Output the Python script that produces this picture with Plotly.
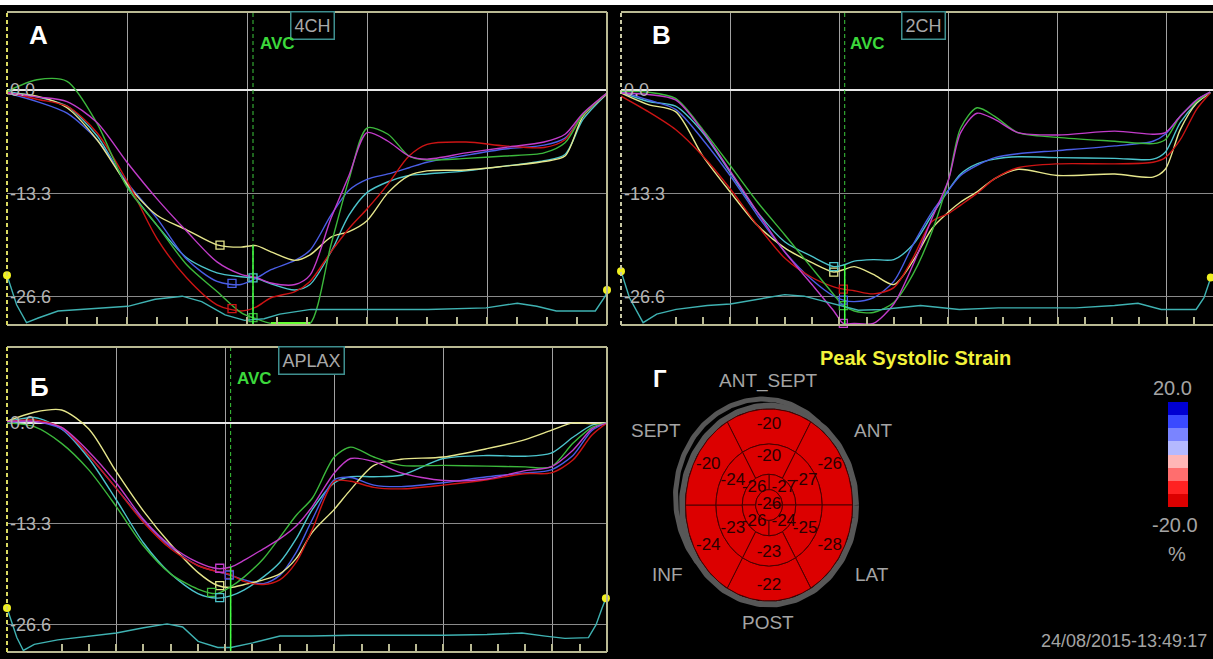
import numpy as np
import plotly.graph_objects as go

W, H = 1213, 659
NARROW = "Liberation Sans Narrow, Arial Narrow, Liberation Sans, Arial, sans-serif"
SANS = "Liberation Sans, Arial, sans-serif"

SEG_COLORS = {
    "cyan": "#4cc4cc",
    "blue": "#4a5ee6",
    "yellow": "#e6e68c",
    "red": "#cc1414",
    "green": "#3cb83c",
    "magenta": "#c23cca",
}
ECG_COLOR = "#3fb2b2"
FRAME = "#b9b993"

# ---------------- Panel А : apical 4-chamber (4CH) ----------------
frames_4ch = [0, 1, 2, 3, 4, 5, 6, 7, 7.8, 8.3, 8.8, 9.6, 10.1, 10.8, 11.4, 12, 12.7,
              13.4, 14, 15.3, 16.6, 17.9, 18.6, 19.2, 20]
yellow_4ch = [-0.5, -0.8, -2.3, -6.4, -12.1, -16.1, -18.0, -19.9, -20.2, -20.0, -20.8, -21.9,
              -21.2, -18.9, -18.2, -16.8, -13.2, -11.0, -10.4, -10.3, -9.8, -9.2, -8.5, -3.4, -0.5]
cyan_4ch = [-0.2, -0.9, -2.1, -5.9, -12.3, -17.4, -21.6, -23.5, -24.0, -24.2, -24.9, -25.7,
            -25.0, -20.8, -16.1, -13.2, -11.8, -11.0, -10.8, -10.4, -9.8, -9.1, -8.3, -3.8, -0.5]
green_4ch = [-0.2, 1.3, 1.1, -4.3, -12.5, -17.4, -22.5, -25.9, -28.6, -29.4, -30.0, -30.0,
             -30.0, -19.9, -11.5, -4.9, -5.7, -8.5, -9.0, -8.8, -8.5, -8.1, -6.8, -3.2, -0.4]
magenta_4ch = [-0.4, -0.9, -1.5, -4.2, -9.3, -14.0, -18.2, -22.1, -23.7, -24.1, -24.8, -25.0,
               -23.8, -16.5, -11.0, -5.5, -6.6, -8.5, -8.9, -8.1, -7.4, -6.7, -5.7, -3.0, -0.4]
red_4ch = [-0.3, -1.2, -2.1, -5.5, -11.7, -19.1, -24.2, -27.6, -28.4, -27.9, -26.7, -25.9,
           -24.6, -20.8, -17.8, -15.3, -12.1, -8.5, -7.0, -6.7, -7.2, -7.4, -6.4, -3.2, -0.4]
blue_4ch = [-0.4, -1.5, -3.0, -6.4, -11.9, -16.5, -21.8, -24.6, -25.0, -24.2, -23.1, -21.9,
            -20.6, -16.1, -12.9, -11.5, -10.8, -10.0, -9.3, -8.4, -7.6, -7.1, -6.2, -3.2, -0.4]
ecg_frames_4ch = [0, 0.32, 0.65, 1.04, 1.7, 3.0, 4.03, 4.94, 5.84, 6.49, 7.27, 7.92, 8.57, 9.09,
                  10.13, 12.73, 14.03, 15.97, 17.01, 17.66, 18.31, 19.61, 19.94, 20.0]
ecg_4ch = [-23.8, -27.6, -29.9, -29.3, -28.4, -28.1, -27.8, -26.9, -26.5, -27.2, -28.9, -29.6,
           -29.4, -28.8, -28.2, -28.2, -28.2, -28.0, -27.4, -27.8, -28.4, -28.4, -26.5, -25.7]
peak_names_4ch = ["yellow", "blue", "red", "cyan", "green"]
peak_frames_4ch = [7.1, 7.5, 7.5, 8.2, 8.2]

# ---------------- Panel В : apical 2-chamber (2CH) ----------------
frames_2ch = [0, 1, 2, 3, 4, 5, 6, 7, 7.8, 8.15, 8.55, 9.25, 10, 10.7, 11.4, 12, 12.45, 13.05,
              13.7, 14.55, 16, 18.1, 19.5, 19.95, 20.5, 21.1, 21.6]
yellow_2ch = [-0.4, -1.9, -2.8, -8.5, -13.1, -17.4, -20.3, -22.2, -23.4, -23.1, -22.7, -23.7,
              -25.0, -22.0, -17.8, -15.7, -14.4, -13.1, -11.4, -10.2, -11.0, -10.8, -11.2,
              -10.2, -5.1, -1.7, -0.4]
cyan_2ch = [-0.3, -1.5, -2.1, -5.5, -10.6, -15.7, -19.5, -21.4, -22.7, -22.5, -22.0, -21.8,
            -21.8, -19.9, -16.1, -12.9, -10.8, -9.5, -8.9, -8.6, -8.7, -8.8, -8.9, -8.0, -4.2,
            -1.7, -0.3]
green_2ch = [-0.2, -0.3, -1.1, -5.1, -9.7, -14.4, -18.6, -22.9, -26.3, -27.7, -28.4, -28.6,
             -27.3, -23.7, -18.2, -11.6, -4.9, -2.3, -3.4, -5.5, -6.1, -6.6, -6.9, -6.4, -3.4,
             -1.5, -0.3]
magenta_2ch = [-0.4, -0.6, -1.3, -5.3, -10.4, -15.7, -20.8, -25.0, -28.4, -30.0, -30.0, -30.0,
               -27.5, -22.5, -16.5, -11.6, -5.5, -3.0, -3.8, -5.5, -5.8, -5.3, -5.7, -5.5,
               -3.4, -1.3, -0.3]
red_2ch = [-0.8, -2.8, -5.1, -8.5, -12.7, -17.4, -21.6, -24.1, -25.3, -25.6, -25.8, -26.2,
           -25.4, -21.6, -16.9, -15.9, -14.8, -13.3, -11.4, -10.0, -9.5, -9.5, -9.3, -8.7,
           -6.4, -2.5, -0.4]
blue_2ch = [-0.2, -1.3, -2.5, -6.4, -11.0, -16.1, -20.8, -24.4, -26.5, -27.0, -27.2, -26.7,
            -24.6, -19.9, -15.7, -12.9, -11.0, -9.7, -8.7, -8.2, -7.8, -7.2, -6.6, -5.7, -3.4,
            -1.3, -0.3]
ecg_frames_2ch = [0, 0.31, 0.81, 1.31, 2.02, 3.16, 4.01, 5.01, 6.0, 6.71, 7.57, 8.7, 9.56,
                  10.98, 12.4, 13.83, 15.25, 16.67, 18.09, 18.95, 19.8, 21.08, 21.37, 21.62]
ecg_2ch = [-23.3, -26.7, -29.9, -28.8, -28.2, -27.7, -27.5, -26.9, -26.3, -26.5, -27.3, -28.3,
           -28.2, -27.7, -28.2, -28.0, -28.0, -28.0, -27.7, -27.4, -28.2, -28.2, -26.7, -24.1]
peak_names_2ch = ["yellow", "cyan", "red", "green", "magenta", "blue"]
peak_frames_2ch = [7.8, 7.8, 8.15, 8.15, 8.15, 8.15]

# ---------------- Panel Б : apical long axis (APLAX) ----------------
frames_aplax = [0, 1, 2, 3, 4, 5, 6, 7, 7.7, 8.2, 8.7, 9.4, 10, 10.6, 11.2, 12, 12.6, 13.45,
                14.45, 16, 17.6, 19, 19.95, 20.75, 21.45, 22]
yellow_aplax = [0.2, 1.4, 1.7, -0.8, -6.4, -11.6, -16.0, -19.7, -21.4, -21.7, -21.3, -20.7,
                -19.9, -17.9, -14.4, -11.4, -8.8, -5.6, -4.8, -4.5, -3.4, -2.2, -1.0, 0.0,
                -0.1, 0.0]
cyan_aplax = [0.1, 0.7, -0.8, -4.7, -10.1, -15.8, -19.9, -22.5, -23.1, -22.8, -22.0, -20.3,
              -18.4, -15.3, -11.4, -7.9, -7.1, -7.1, -6.9, -4.7, -4.3, -4.4, -4.0, -1.9, -0.3, 0.0]
green_aplax = [0.0, -0.5, -2.7, -6.2, -11.0, -16.2, -19.9, -21.9, -22.5, -21.6, -20.3, -17.9,
               -15.1, -12.2, -9.9, -4.5, -3.2, -4.5, -5.6, -5.6, -5.7, -5.8, -5.8, -2.7, -0.6, 0.0]
magenta_aplax = [0.2, 0.2, -0.6, -3.8, -7.9, -12.7, -16.2, -18.4, -19.2, -19.0, -18.1, -16.6,
                 -15.3, -13.6, -11.0, -6.6, -4.7, -5.1, -6.6, -7.6, -7.4, -6.3, -5.8, -3.6,
                 -0.8, 0.0]
red_aplax = [0.1, 0.4, -0.6, -4.3, -8.6, -13.1, -16.6, -18.8, -19.6, -20.0, -20.9, -21.3,
             -20.7, -18.4, -14.0, -7.7, -7.7, -8.5, -8.7, -8.2, -7.5, -6.7, -6.6, -4.9, -1.6, 0.0]
blue_aplax = [0.0, 0.2, -0.8, -4.3, -8.6, -12.9, -16.4, -18.8, -19.6, -20.1, -20.7, -21.2,
              -20.1, -17.1, -12.7, -7.5, -7.2, -8.2, -8.4, -7.9, -7.1, -6.6, -6.2, -4.3, -1.0, 0.0]
ecg_frames_aplax = [0, 0.36, 0.6, 1.0, 1.86, 3.0, 4.01, 5.01, 5.87, 6.44, 7.01, 7.73, 8.21,
                    9.01, 10.01, 11.16, 12.59, 14.02, 16.0, 17.6, 18.88, 19.74, 20.46, 21.32,
                    21.6, 21.82, 21.96]
ecg_aplax = [-24.4, -28.3, -30.0, -29.2, -28.6, -28.1, -27.7, -27.0, -26.5, -26.9, -28.8,
             -29.6, -29.6, -29.0, -28.1, -28.1, -28.0, -28.0, -28.0, -27.9, -27.7, -28.1,
             -28.4, -28.3, -26.6, -24.4, -23.1]
peak_names_aplax = ["yellow", "green", "cyan", "magenta", "red", "blue"]
peak_frames_aplax = [7.8, 7.5, 7.8, 7.8, 8.15, 8.15]

AVC_FRAME = 8.2
Y_TICKS = [0.0, -13.3, -26.6]
Y_TICKTEXT = ["0.0", "-13.3", "-26.6"]

# ---------------- Panel Г : 17-segment bull's-eye ----------------
basal_centers = [90, 30, -30, -90, -150, 150]
strain_basal = [-20, -26, -28, -22, -24, -20]
strain_mid = [-20, -27, -25, -23, -23, -24]
apical_centers = [45, 135, 225, 315]
strain_apical = [-27, -26, -26, -24]
strain_apex = [-26]
wall_names = ["ANT_SEPT", "SEPT", "ANT", "INF", "LAT", "POST"]

SCALE_MIN, SCALE_MAX = -20.0, 20.0
scale_colors = ["#dc0000", "#ff2222", "#ff6e6e", "#ffb6b6",
                "#b4b9ff", "#7a84ff", "#3a4aff", "#0000d2"]


def paper_x(px):
    return px / W


def paper_y(py):
    return 1 - py / H


def label(text, x, y, size, color, family=NARROW, xanchor="center", **kw):
    return dict(text=text, x=paper_x(x), y=paper_y(y), xref="paper", yref="paper",
                showarrow=False, xanchor=xanchor, yanchor="middle",
                font=dict(family=family, size=size, color=color), **kw)


fig = go.Figure()
shapes = []
annotations = []

panels = [
    dict(sx="", frames=frames_4ch, ecg=(ecg_frames_4ch, ecg_4ch), xmax=20.0,
         dx=(7, 607), dy=(12, 325),
         curves={"cyan": cyan_4ch, "blue": blue_4ch, "yellow": yellow_4ch, "red": red_4ch,
                 "green": green_4ch, "magenta": magenta_4ch},
         peaks=(peak_names_4ch, peak_frames_4ch), letter="А", letter_xy=(38, 35),
         view="4CH", view_xy=(312, 26), avc_xy=(258, 43), left="#d8d860", right=True,
         clip_flash=True),
    dict(sx="2", frames=frames_2ch, ecg=(ecg_frames_2ch, ecg_2ch), xmax=21.7,
         dx=(621, 1213), dy=(12, 325),
         curves={"cyan": cyan_2ch, "blue": blue_2ch, "yellow": yellow_2ch, "red": red_2ch,
                 "green": green_2ch, "magenta": magenta_2ch},
         peaks=(peak_names_2ch, peak_frames_2ch), letter="В", letter_xy=(662, 35),
         view="2CH", view_xy=(923, 26), avc_xy=(848, 43), left="#c8c8a4", right=False,
         clip_flash=False),
    dict(sx="3", frames=frames_aplax, ecg=(ecg_frames_aplax, ecg_aplax), xmax=22.0,
         dx=(7, 607), dy=(347, 652),
         curves={"cyan": cyan_aplax, "blue": blue_aplax, "yellow": yellow_aplax,
                 "red": red_aplax, "green": green_aplax, "magenta": magenta_aplax},
         peaks=(peak_names_aplax, peak_frames_aplax), letter="Б", letter_xy=(39, 387),
         view="APLAX", view_xy=(311, 361), avc_xy=(235, 378), left="#d8d860", right=True,
         clip_flash=False),
]

layout_axes = {}
for p in panels:
    sx = p["sx"]
    xa, ya = "x" + sx, "y" + sx
    layout_axes["xaxis" + sx] = dict(
        domain=[paper_x(p["dx"][0]), paper_x(p["dx"][1])], range=[0, p["xmax"]],
        anchor=ya, tick0=0, dtick=4, ticks="inside", ticklen=8, tickwidth=1.5,
        tickcolor=FRAME, showticklabels=False, showgrid=True, gridcolor="#a2a2a2",
        gridwidth=1, zeroline=False, showline=False, fixedrange=True,
        minor=dict(tick0=0, dtick=1, ticks="inside", ticklen=8, tickwidth=1.5,
                   tickcolor=FRAME, showgrid=False),
    )
    layout_axes["yaxis" + sx] = dict(
        domain=[paper_y(p["dy"][1]), paper_y(p["dy"][0])], range=[-30.2, 10],
        anchor=xa, tickvals=Y_TICKS, ticktext=Y_TICKTEXT, ticks="",
        ticklabelposition="inside", ticklabelstandoff=0,
        tickfont=dict(family=NARROW, size=18, color="#b4b4b4"),
        showgrid=True, gridcolor="#8a8a8a", gridwidth=1, zeroline=True,
        zerolinecolor="#e8e8e8", zerolinewidth=1.5, showline=False, fixedrange=True,
    )

    frames = np.array(p["frames"], dtype=float)
    curve_vals = {}
    for name, vals in p["curves"].items():
        vals = np.array(vals, dtype=float)
        curve_vals[name] = vals
        fig.add_trace(go.Scatter(
            x=frames, y=vals, mode="lines", xaxis=xa, yaxis=ya,
            line=dict(color=SEG_COLORS[name], width=1.4, shape="spline", smoothing=0.8),
            hoverinfo="skip", showlegend=False))

    # segment clipped at the lower limit flashes in bright green
    if p["clip_flash"]:
        g = curve_vals["green"]
        low = g <= -29.95
        fig.add_trace(go.Scatter(
            x=frames[low], y=g[low], mode="lines", xaxis=xa, yaxis=ya,
            line=dict(color="#66ff33", width=3), hoverinfo="skip", showlegend=False,
            cliponaxis=False))

    # peak markers
    names, pk = p["peaks"]
    for name, f in zip(names, pk):
        yv = float(np.interp(f, frames, curve_vals[name]))
        fig.add_trace(go.Scatter(
            x=[f], y=[yv], mode="markers", xaxis=xa, yaxis=ya,
            marker=dict(symbol="square-open", size=8, color=SEG_COLORS[name],
                        line=dict(width=1.3, color=SEG_COLORS[name])),
            hoverinfo="skip", showlegend=False, cliponaxis=False))

    # ECG trace with its end dots
    ef, ev = p["ecg"]
    fig.add_trace(go.Scatter(
        x=ef, y=ev, mode="lines", xaxis=xa, yaxis=ya,
        line=dict(color=ECG_COLOR, width=1.4), hoverinfo="skip", showlegend=False))
    fig.add_trace(go.Scatter(
        x=[ef[0], ef[-1]], y=[ev[0], ev[-1]], mode="markers", xaxis=xa, yaxis=ya,
        marker=dict(color="#f0f020", size=8), hoverinfo="skip", showlegend=False,
        cliponaxis=False))

    # aortic valve closure marker
    shapes.append(dict(type="line", xref=xa, yref=ya + " domain", x0=AVC_FRAME,
                       x1=AVC_FRAME, y0=0, y1=1,
                       line=dict(color="#3cc83c", width=1, dash="4px,3px")))
    top_at_avc = max(float(np.interp(AVC_FRAME, frames, v)) for v in curve_vals.values())
    shapes.append(dict(type="line", xref=xa, yref=ya, x0=AVC_FRAME, x1=AVC_FRAME,
                       y0=-30.2, y1=top_at_avc, line=dict(color="#44ff44", width=1.5)))

    # frame
    dref = dict(xref=xa + " domain", yref=ya + " domain")
    shapes.append(dict(type="line", x0=0, x1=1, y0=1, y1=1,
                       line=dict(color=FRAME, width=2), **dref))
    shapes.append(dict(type="line", x0=0, x1=1, y0=0, y1=0,
                       line=dict(color=FRAME, width=2), **dref))
    if p["right"]:
        shapes.append(dict(type="line", x0=1, x1=1, y0=0, y1=1,
                           line=dict(color=FRAME, width=2), **dref))
    shapes.append(dict(type="line", x0=0, x1=0, y0=0, y1=1,
                       line=dict(color=p["left"], width=2, dash="4px,3px"), **dref))

    lx, ly = p["letter_xy"]
    annotations.append(label("<b>%s</b>" % p["letter"], lx, ly, 26, "white", family=SANS))
    vx, vy = p["view_xy"]
    annotations.append(label(p["view"], vx, vy, 18, "#a8a8a8", bgcolor="black",
                             bordercolor="#3f8f8f", borderwidth=1.5, borderpad=3))
    ax_, ay_ = p["avc_xy"]
    annotations.append(label("<b>AVC</b>", ax_, ay_, 17, "#3cd83c", xanchor="left"))

# ---------------- bull's-eye geometry ----------------
BE_CX, BE_CY = 769, 505          # centre, px
BE_RX, BE_RY = 83.5, 96.0        # outer radii, px
BX0, BX1, BY0, BY1 = 620, 1000, 340, 659
layout_axes["xaxis4"] = dict(domain=[paper_x(BX0), paper_x(BX1)],
                             range=[BX0 - BE_CX, BX1 - BE_CX], visible=False,
                             fixedrange=True, anchor="y4")
layout_axes["yaxis4"] = dict(domain=[paper_y(BY1), paper_y(BY0)],
                             range=[-(BY1 - BE_CY), BE_CY - BY0], visible=False,
                             fixedrange=True, anchor="x4")


def scale_color(v):
    idx = int(np.floor((v - SCALE_MIN) / (SCALE_MAX - SCALE_MIN) * len(scale_colors)))
    return scale_colors[min(max(idx, 0), len(scale_colors) - 1)]


def sector(r0, r1, a0, a1, n=48):
    t = np.radians(np.linspace(a0, a1, n))
    xo, yo = BE_RX * r1 * np.cos(t), BE_RY * r1 * np.sin(t)
    ti = t[::-1]
    xi, yi = BE_RX * r0 * np.cos(ti), BE_RY * r0 * np.sin(ti)
    return (np.concatenate([xo, xi, xo[:1]]), np.concatenate([yo, yi, yo[:1]]))


# grey myocardial outline
t = np.radians(np.linspace(0, 360, 200))
fig.add_trace(go.Scatter(x=(BE_RX + 3.5) * np.cos(t), y=(BE_RY + 3.5) * np.sin(t),
                         mode="lines", xaxis="x4", yaxis="y4",
                         line=dict(color="#575757", width=6), hoverinfo="skip",
                         showlegend=False))
ta = np.linspace(55, 215, 120)
bump = 9 * np.sin(np.pi * (ta - 55) / 160)
fig.add_trace(go.Scatter(x=(BE_RX + 4 + bump) * np.cos(np.radians(ta)),
                         y=(BE_RY + 4 + bump) * np.sin(np.radians(ta)),
                         mode="lines", xaxis="x4", yaxis="y4",
                         line=dict(color="#575757", width=5), hoverinfo="skip",
                         showlegend=False))

rings = [((0.635, 1.0), basal_centers, strain_basal, 60, 0.84),
         ((0.32, 0.635), basal_centers, strain_mid, 60, 0.50),
         ((0.16, 0.32), apical_centers, strain_apical, 90, 0.25)]
lab_x, lab_y, lab_t = [], [], []
for (r0, r1), centers, vals, span, rl in rings:
    for c, v in zip(centers, vals):
        sx_, sy_ = sector(r0, r1, c - span / 2, c + span / 2)
        fig.add_trace(go.Scatter(x=sx_, y=sy_, mode="lines", fill="toself",
                                 fillcolor=scale_color(v), xaxis="x4", yaxis="y4",
                                 line=dict(color="#4a0000", width=1), hoverinfo="skip",
                                 showlegend=False))
        lab_x.append(BE_RX * rl * np.cos(np.radians(c)))
        lab_y.append(BE_RY * rl * np.sin(np.radians(c)))
        lab_t.append(str(v))
ax_x, ax_y = sector(0.0, 0.16, 0, 360)
fig.add_trace(go.Scatter(x=ax_x, y=ax_y, mode="lines", fill="toself",
                         fillcolor=scale_color(strain_apex[0]), xaxis="x4", yaxis="y4",
                         line=dict(color="#4a0000", width=1), hoverinfo="skip",
                         showlegend=False))
lab_x.append(0.0)
lab_y.append(0.0)
lab_t.append(str(strain_apex[0]))
fig.add_trace(go.Scatter(x=lab_x, y=lab_y, text=lab_t, mode="text", xaxis="x4", yaxis="y4",
                         textfont=dict(family=NARROW, size=17, color="#2a0000"),
                         hoverinfo="skip", showlegend=False))

# colour scale legend
cs = []
for i, c in enumerate(scale_colors):
    cs.append([i / len(scale_colors), c])
    cs.append([(i + 1) / len(scale_colors), c])
all_vals = strain_basal + strain_mid + strain_apical + strain_apex
fig.add_trace(go.Scatter(
    x=[None] * len(all_vals), y=[None] * len(all_vals), mode="markers",
    xaxis="x4", yaxis="y4", hoverinfo="skip", showlegend=False,
    marker=dict(color=all_vals, colorscale=cs, cmin=SCALE_MIN, cmax=SCALE_MAX,
                showscale=True,
                colorbar=dict(x=paper_x(1168), xanchor="left", xpad=0, ypad=0,
                              y=paper_y(454.5), yanchor="middle", len=105,
                              lenmode="pixels", thickness=20, thicknessmode="pixels",
                              outlinewidth=0, showticklabels=False, ticks=""))))

wall_xy = [(768, 381), (656, 430), (873, 430), (667, 574), (872, 574), (768, 622)]
for name, (wx, wy) in zip(wall_names, wall_xy):
    annotations.append(label(name, wx, wy, 19, "#a4a4a4"))

annotations += [
    label("<b>Peak Systolic Strain</b>", 916, 358, 20, "#f2f23a"),
    label("<b>Г</b>", 660, 378, 24, "white", family=SANS),
    label("20.0", 1172, 388, 20, "#a4a4a4"),
    label("-20.0", 1175, 525, 20, "#a4a4a4"),
    label("%", 1177, 554, 20, "#a4a4a4"),
    label("24/08/2015-13:49:17", 1209, 641, 18, "#a4a4a4", xanchor="right"),
]

# white strip along the top edge
shapes.append(dict(type="rect", xref="paper", yref="paper", x0=0, x1=1,
                   y0=paper_y(5), y1=1, fillcolor="white", line=dict(width=0)))

fig.update_layout(
    width=W, height=H, margin=dict(l=0, r=0, t=0, b=0),
    paper_bgcolor="black", plot_bgcolor="black", hovermode=False,
    shapes=shapes, annotations=annotations, showlegend=False, **layout_axes,
)

fig.write_html("out.html")
